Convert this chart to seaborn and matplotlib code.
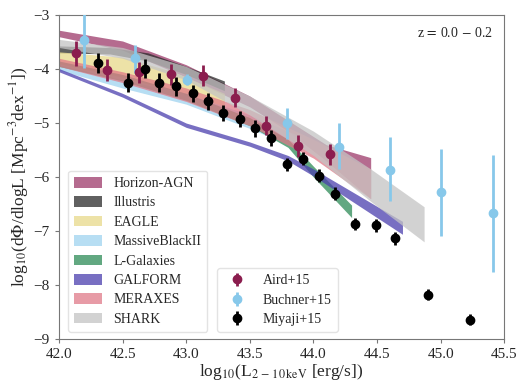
import numpy as np
import matplotlib
matplotlib.use("Agg")
import matplotlib.pyplot as plt
from matplotlib.patches import Patch
import seaborn as sns

# model bands: x, lower, upper
horizon_x = [42.0, 42.5, 43.0, 43.5, 43.8, 44.1, 44.45]
horizon_lo = [-3.40, -3.65, -4.15, -4.70, -5.15, -5.70, -6.40]
horizon_hi = [-3.28, -3.48, -3.92, -4.50, -4.95, -5.40, -5.64]

illustris_x = [42.0, 42.4, 42.7, 43.0, 43.3]
illustris_lo = [-3.70, -3.72, -3.85, -4.10, -4.40]
illustris_hi = [-3.57, -3.60, -3.70, -3.95, -4.22]

eagle_x = [42.0, 42.5, 42.9, 43.3]
eagle_lo = [-3.90, -4.15, -4.40, -4.75]
eagle_hi = [-3.68, -3.78, -4.05, -4.45]

mb2_x = [42.0, 42.5, 43.0, 43.5, 43.9]
mb2_lo = [-4.02, -4.35, -4.65, -5.10, -5.50]
mb2_hi = [-3.92, -4.20, -4.45, -4.85, -5.25]

lgal_x = [42.0, 42.5, 43.0, 43.5, 43.8, 44.0, 44.3]
lgal_lo = [-3.95, -4.22, -4.58, -5.05, -5.45, -6.00, -6.75]
lgal_hi = [-3.85, -4.10, -4.45, -4.90, -5.30, -5.80, -6.52]

galform_x = [42.0, 42.5, 43.0, 43.5, 43.8, 44.0, 44.7]
galform_lo = [-4.05, -4.52, -5.08, -5.43, -5.70, -5.98, -7.06]
galform_hi = [-3.99, -4.45, -5.00, -5.35, -5.60, -5.85, -6.82]

meraxes_x = [42.0, 42.5, 43.0, 43.5, 44.0, 44.45]
meraxes_lo = [-3.95, -4.25, -4.60, -5.05, -5.65, -6.40]
meraxes_hi = [-3.80, -4.05, -4.35, -4.75, -5.30, -5.85]

shark_x = [42.0, 42.5, 43.0, 43.5, 44.0, 44.45, 44.87]
shark_lo = [-3.60, -3.80, -4.20, -4.85, -5.60, -6.45, -7.20]
shark_hi = [-3.45, -3.60, -3.95, -4.50, -5.15, -5.85, -6.55]

# observations
aird_x = [42.13, 42.38, 42.63, 42.88, 43.13, 43.38, 43.63, 43.88, 44.13]
aird_y = [-3.71, -4.02, -4.06, -4.10, -4.12, -4.53, -5.05, -5.42, -5.58]
aird_err = [0.23, 0.2, 0.2, 0.2, 0.2, 0.18, 0.18, 0.2, 0.2]

buchner_x = [42.20, 42.60, 43.01, 43.79, 44.20, 44.60, 45.00, 45.41]
buchner_y = [-3.47, -3.80, -4.20, -5.00, -5.44, -5.87, -6.28, -6.67]
buchner_lo = [0.51, 0.28, 0.10, 0.30, 0.41, 0.58, 0.82, 1.08]
buchner_hi = [0.90, 0.25, 0.10, 0.28, 0.44, 0.62, 0.80, 1.07]

miyaji_x = [42.31, 42.54, 42.68, 42.79, 42.92, 43.05, 43.17, 43.29, 43.42,
            43.54, 43.67, 43.79, 43.92, 44.04, 44.17, 44.33, 44.49, 44.64,
            44.90, 45.23]
miyaji_y = [-3.89, -4.25, -3.99, -4.25, -4.32, -4.45, -4.60, -4.82, -4.92,
            -5.10, -5.27, -5.76, -5.66, -5.98, -6.31, -6.87, -6.89, -7.13,
            -8.18, -8.64]
miyaji_err = [0.18, 0.18, 0.18, 0.18, 0.17, 0.16, 0.15, 0.15, 0.15,
              0.15, 0.15, 0.12, 0.12, 0.12, 0.12, 0.12, 0.12, 0.12,
              0.1, 0.1]

sns.set_style("ticks")
plt.rcParams['font.family'] = ['Liberation Serif', 'DejaVu Serif']
plt.rcParams['mathtext.fontset'] = 'stix'

fig, ax = plt.subplots(figsize=(5.22, 3.87), dpi=100)
fig.subplots_adjust(left=0.113, right=0.966, top=0.961, bottom=0.124)

models = [
    ('Horizon-AGN', '#9c3a6a', horizon_x, horizon_lo, horizon_hi),
    ('Illustris', '#2b2b2b', illustris_x, illustris_lo, illustris_hi),
    ('EAGLE', '#e8d98a', eagle_x, eagle_lo, eagle_hi),
    ('MassiveBlackII', '#9fd3ef', mb2_x, mb2_lo, mb2_hi),
    ('L-Galaxies', '#2e8b57', lgal_x, lgal_lo, lgal_hi),
    ('GALFORM', '#4b3fae', galform_x, galform_lo, galform_hi),
    ('MERAXES', '#e07a88', meraxes_x, meraxes_lo, meraxes_hi),
    ('SHARK', '#c4c4c4', shark_x, shark_lo, shark_hi),
]

handles1 = []
for name, col, x, lo, hi in models:
    ax.fill_between(x, lo, hi, color=col, alpha=0.75, lw=0)
    handles1.append(Patch(facecolor=col, alpha=0.75, edgecolor='none', label=name))

ax.errorbar(aird_x, aird_y, yerr=aird_err, fmt='o', color='#8b1d4e',
            ms=6, elinewidth=2, capsize=0, zorder=5)
ax.errorbar(buchner_x, buchner_y, yerr=[buchner_lo, buchner_hi], fmt='o',
            color='#87c8ea', ms=6, elinewidth=2, capsize=0, zorder=5)
ax.errorbar(miyaji_x, miyaji_y, yerr=miyaji_err, fmt='o', color='black',
            ms=6, elinewidth=2, capsize=0, zorder=6)

ax.set_xlim(42.0, 45.5)
ax.set_ylim(-9, -3)
ax.set_xlabel(r'log$_{10}$(L$_{2\,-\,10\,\mathrm{keV}}$ [erg/s])', fontsize=12.5, labelpad=1)
ax.set_ylabel(r'log$_{10}$(d$\Phi$/dlogL [Mpc$^{-3}$dex$^{-1}$])', fontsize=12.5, labelpad=2)
ax.tick_params(labelsize=11, color='#777777', length=3)
for s in ax.spines.values():
    s.set_color('#777777')
ax.text(0.975, 0.965, r'z$\,=\,$0.0$\,-\,$0.2', transform=ax.transAxes, ha='right',
        va='top', fontsize=10)

leg1 = ax.legend(handles=handles1, loc='lower left', bbox_to_anchor=(0.005, 0.0),
                 fontsize=10, handlelength=2.0, handleheight=0.8,
                 labelspacing=0.45, borderpad=0.45, frameon=True)
leg1.get_frame().set_edgecolor('#dddddd')
ax.add_artist(leg1)

h2 = [
    ax.errorbar([], [], yerr=[], fmt='o', color='#8b1d4e', ms=6, elinewidth=2),
    ax.errorbar([], [], yerr=[], fmt='o', color='#87c8ea', ms=6, elinewidth=2),
    ax.errorbar([], [], yerr=[], fmt='o', color='black', ms=6, elinewidth=2),
]
leg2 = ax.legend(h2, ['Aird+15', 'Buchner+15', 'Miyaji+15'], loc='lower left',
                 bbox_to_anchor=(0.34, 0.0), fontsize=10, handlelength=2.0,
                 labelspacing=0.45, borderpad=0.45, frameon=True)
leg2.get_frame().set_edgecolor('#dddddd')

fig.savefig('out.png', dpi=100)
